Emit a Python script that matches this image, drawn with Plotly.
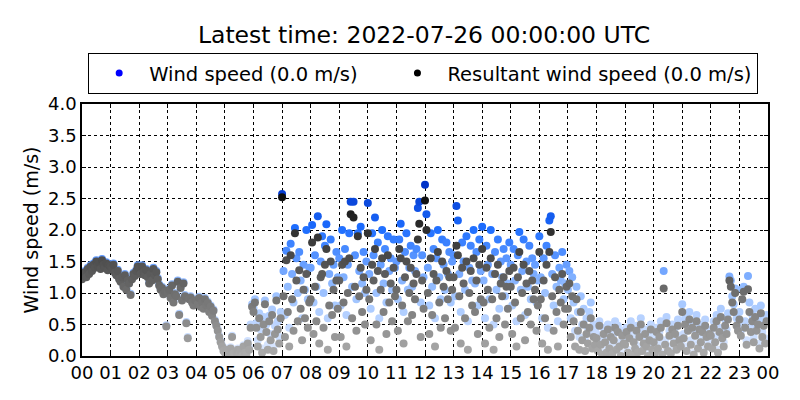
import plotly.graph_objects as go

# one reading every 3 minutes, 20 per hour, one row per hour
sample_minutes = list(range(0, 1440, 3))

hour_labels = ["00", "01", "02", "03", "04", "05", "06", "07", "08", "09", "10", "11",
               "12", "13", "14", "15", "16", "17", "18", "19", "20", "21", "22", "23", "00"]

wind_speed = [
    1.24, 1.30, 1.35, 1.27, 1.40, 1.32, 1.44, 1.37, 1.47, 1.42, 1.52, 1.45, 1.50, 1.40, 1.54, 1.47, 1.42, 1.49, 1.38, 1.46,
    1.44, 1.40, 1.47, 1.34, 1.30, 1.37, 1.24, 1.20, 1.27, 1.12, 1.30, 1.07, 1.22, 1.17, 0.99, 1.24, 1.32, 1.29, 1.37, 1.44,
    1.40, 1.32, 1.44, 1.35, 1.30, 1.38, 1.27, 1.17, 1.32, 1.22, 1.40, 1.30, 1.35, 1.24, 1.14, 1.07, 1.10, 1.00, 1.04, 0.49,
    1.02, 1.07, 0.94, 1.14, 0.87, 1.00, 0.97, 1.20, 0.67, 1.10, 0.90, 1.17, 0.97, 0.54, 0.30, 0.92, 0.95, 0.87, 0.82, 0.90,
    0.90, 0.84, 0.94, 0.80, 0.87, 0.77, 0.92, 0.82, 0.86, 0.72, 0.80, 0.66, 0.74, 0.57, 0.50, 0.42, 0.32, 0.24, 0.17, 0.10,
    0.07, 0.12, 0.04, 0.10, 0.14, 0.32, 0.06, 0.02, 0.08, 0.12, 0.05, 0.10, 0.02, 0.17, 0.07, 0.04, 0.24, 0.14, 0.50, 0.82,
    0.76, 0.90, 0.52, 0.25, 0.68, 0.42, 0.12, 0.62, 0.88, 0.50, 0.18, 0.64, 0.35, 0.74, 0.15, 0.48, 0.95, 0.55, 0.30, 0.70,
    2.57, 1.35, 0.65, 1.67, 1.10, 0.45, 1.78, 1.30, 0.85, 2.03, 1.55, 1.00, 1.65, 1.20, 0.60, 1.45, 1.05, 2.00, 0.90, 1.40,
    1.40, 2.08, 0.85, 1.60, 1.10, 2.22, 0.70, 1.50, 1.90, 1.00, 1.75, 2.09, 0.60, 1.30, 1.85, 1.15, 1.45, 0.80, 1.65, 1.25,
    1.55, 0.80, 2.00, 1.25, 1.70, 0.65, 1.45, 1.95, 2.45, 1.10, 2.45, 1.60, 0.90, 1.95, 1.35, 2.05, 1.15, 1.65, 1.00, 1.50,
    2.43, 1.30, 0.75, 1.95, 1.60, 2.20, 1.00, 1.80, 0.60, 1.45, 2.00, 1.15, 1.70, 0.85, 1.90, 1.35, 1.55, 1.05, 1.85, 1.40,
    1.50, 0.90, 1.85, 2.10, 1.20, 0.70, 1.65, 1.95, 1.05, 1.40, 1.75, 1.10, 1.60, 1.35, 1.70, 2.35, 2.45, 0.85, 1.60, 1.25,
    2.72, 2.25, 1.40, 0.80, 1.95, 1.10, 1.70, 0.60, 1.55, 2.00, 1.25, 0.90, 1.85, 1.45, 1.05, 1.80, 1.30, 1.65, 0.85, 1.50,
    1.60, 0.95, 2.38, 2.15, 1.30, 0.70, 1.80, 1.50, 1.05, 1.90, 0.55, 1.40, 1.75, 1.20, 2.00, 1.15, 1.65, 0.80, 1.85, 1.35,
    2.05, 1.20, 0.60, 1.75, 1.45, 0.90, 2.00, 1.30, 0.50, 1.65, 1.05, 1.85, 0.75, 1.50, 1.25, 1.70, 0.95, 1.55, 1.15, 1.80,
    1.45, 0.80, 1.70, 1.20, 0.55, 1.60, 1.97, 1.05, 1.35, 1.85, 0.65, 1.50, 1.10, 1.75, 0.90, 1.55, 1.30, 1.45, 0.85, 1.20,
    1.90, 1.25, 0.60, 1.55, 1.00, 1.75, 0.45, 2.15, 2.22, 1.30, 0.80, 1.60, 1.10, 0.55, 1.40, 1.20, 1.65, 0.90, 1.15, 1.45,
    1.05, 1.35, 0.60, 1.25, 0.85, 0.40, 1.10, 0.70, 0.30, 0.95, 0.50, 0.75, 0.25, 0.60, 0.45, 0.70, 0.85, 0.35, 0.50, 0.40,
    0.35, 0.15, 0.55, 0.25, 0.05, 0.45, 0.30, 0.10, 0.50, 0.20, 0.40, 0.08, 0.35, 0.55, 0.18, 0.48, 0.22, 0.05, 0.40, 0.28,
    0.25, 0.45, 0.10, 0.35, 0.55, 0.05, 0.30, 0.20, 0.48, 0.12, 0.38, 0.60, 0.15, 0.28, 0.42, 0.22, 0.05, 0.32, 0.50, 0.18,
    0.30, 0.10, 0.45, 0.20, 0.38, 0.55, 0.05, 1.35, 0.25, 0.62, 0.15, 0.40, 0.08, 0.50, 0.28, 0.45, 0.18, 0.58, 0.32, 0.22,
    0.82, 0.35, 0.60, 0.15, 0.48, 0.70, 0.25, 0.55, 0.05, 0.40, 0.65, 0.20, 0.50, 0.30, 0.45, 0.10, 0.58, 0.38, 0.22, 0.42,
    0.40, 0.20, 0.55, 0.30, 0.65, 0.10, 0.45, 0.75, 0.35, 0.22, 0.58, 0.42, 0.68, 1.26, 1.20, 0.95, 0.82, 1.07, 0.60, 0.50,
    0.70, 0.40, 1.06, 1.10, 0.55, 0.25, 1.27, 0.85, 0.45, 0.65, 0.30, 0.75, 0.50, 0.60, 0.20, 0.80, 0.38, 0.58, 0.28, 0.65,
]

resultant = [
    1.22, 1.28, 1.33, 1.25, 1.38, 1.30, 1.42, 1.35, 1.45, 1.40, 1.50, 1.43, 1.48, 1.38, 1.52, 1.45, 1.40, 1.47, 1.36, 1.44,
    1.42, 1.38, 1.45, 1.32, 1.28, 1.35, 1.22, 1.18, 1.25, 1.10, 1.28, 1.05, 1.20, 1.15, 0.97, 1.22, 1.30, 1.27, 1.35, 1.42,
    1.38, 1.30, 1.42, 1.33, 1.28, 1.36, 1.25, 1.15, 1.30, 1.20, 1.38, 1.28, 1.33, 1.22, 1.12, 1.05, 1.08, 0.98, 1.02, 0.47,
    1.00, 1.05, 0.92, 1.12, 0.85, 0.98, 0.95, 1.18, 0.65, 1.08, 0.88, 1.15, 0.95, 0.52, 0.28, 0.90, 0.93, 0.85, 0.80, 0.88,
    0.88, 0.82, 0.92, 0.78, 0.85, 0.75, 0.90, 0.80, 0.84, 0.70, 0.78, 0.64, 0.72, 0.55, 0.48, 0.40, 0.30, 0.22, 0.15, 0.08,
    0.05, 0.10, 0.02, 0.08, 0.12, 0.30, 0.04, 0.00, 0.06, 0.10, 0.03, 0.08, 0.00, 0.15, 0.05, 0.02, 0.20, 0.10, 0.45, 0.78,
    0.70, 0.85, 0.45, 0.15, 0.60, 0.30, 0.05, 0.50, 0.82, 0.38, 0.10, 0.55, 0.25, 0.65, 0.08, 0.35, 0.88, 0.42, 0.20, 0.60,
    2.52, 0.95, 0.30, 1.52, 0.70, 0.15, 1.60, 0.90, 0.40, 1.95, 1.20, 0.55, 1.36, 0.75, 0.25, 1.05, 0.60, 1.30, 0.45, 0.85,
    0.90, 1.80, 0.35, 1.10, 0.55, 1.88, 0.20, 1.25, 1.30, 0.45, 1.45, 1.70, 0.10, 0.80, 1.50, 0.65, 1.05, 0.30, 1.20, 0.75,
    1.20, 0.30, 1.45, 0.85, 1.50, 0.15, 1.00, 1.55, 2.25, 0.60, 2.20, 1.10, 0.40, 1.90, 0.95, 1.40, 0.70, 1.25, 0.50, 1.05,
    1.95, 0.90, 0.25, 1.45, 1.20, 1.70, 0.50, 1.35, 0.10, 1.05, 1.55, 0.70, 1.30, 0.35, 1.60, 0.85, 1.15, 0.55, 1.40, 0.95,
    1.05, 0.40, 1.70, 1.55, 0.80, 0.20, 1.25, 1.50, 0.55, 1.00, 1.40, 0.65, 1.15, 0.90, 1.30, 1.85, 2.10, 0.30, 1.20, 0.75,
    2.47, 2.00, 1.00, 0.35, 1.55, 0.65, 1.30, 0.15, 1.20, 1.65, 0.85, 0.45, 1.50, 1.10, 0.60, 1.35, 0.90, 1.25, 0.40, 1.05,
    1.25, 0.45, 1.75, 1.60, 0.95, 0.20, 1.40, 1.15, 0.60, 1.50, 0.10, 1.00, 1.35, 0.80, 1.55, 0.70, 1.20, 0.35, 1.45, 0.90,
    1.70, 0.85, 0.20, 1.40, 1.05, 0.45, 1.55, 0.90, 0.10, 1.30, 0.60, 1.45, 0.30, 1.15, 0.95, 1.25, 0.50, 1.10, 0.75, 1.35,
    1.10, 0.35, 1.40, 0.85, 0.15, 1.25, 1.65, 0.60, 1.00, 1.45, 0.25, 1.15, 0.70, 1.35, 0.50, 1.20, 0.90, 1.05, 0.40, 0.80,
    1.65, 0.90, 0.20, 1.20, 0.60, 1.45, 0.10, 1.65, 1.97, 0.95, 0.40, 1.25, 0.70, 0.15, 1.05, 0.85, 1.30, 0.50, 0.75, 1.10,
    0.75, 1.15, 0.30, 0.95, 0.55, 0.15, 0.90, 0.40, 0.10, 0.70, 0.25, 0.50, 0.08, 0.35, 0.20, 0.45, 0.60, 0.12, 0.30, 0.18,
    0.28, 0.08, 0.48, 0.18, 0.02, 0.35, 0.22, 0.05, 0.42, 0.12, 0.30, 0.03, 0.25, 0.45, 0.10, 0.38, 0.15, 0.00, 0.32, 0.20,
    0.18, 0.38, 0.05, 0.28, 0.45, 0.02, 0.22, 0.12, 0.40, 0.06, 0.30, 0.50, 0.08, 0.20, 0.35, 0.15, 0.00, 0.25, 0.42, 0.10,
    0.22, 0.05, 0.38, 0.12, 0.30, 0.45, 0.02, 1.07, 0.18, 0.52, 0.08, 0.32, 0.04, 0.42, 0.20, 0.35, 0.10, 0.48, 0.25, 0.15,
    0.70, 0.28, 0.50, 0.08, 0.40, 0.58, 0.18, 0.45, 0.02, 0.32, 0.55, 0.12, 0.42, 0.22, 0.38, 0.05, 0.48, 0.30, 0.15, 0.35,
    0.32, 0.12, 0.45, 0.22, 0.55, 0.05, 0.38, 0.62, 0.28, 0.15, 0.48, 0.35, 0.58, 1.20, 1.10, 0.85, 0.70, 1.00, 0.48, 0.40,
    0.58, 0.32, 0.90, 1.02, 0.45, 0.18, 1.06, 0.70, 0.38, 0.55, 0.22, 0.62, 0.40, 0.50, 0.12, 0.68, 0.30, 0.48, 0.20, 0.55,
]

hours = [m / 60 for m in sample_minutes]

blues = [[0, "rgb(225,235,255)"], [0.4, "rgb(150,190,255)"],
         [0.75, "rgb(30,110,255)"], [1, "rgb(0,50,200)"]]
greys = [[0, "rgb(172,172,172)"], [1, "rgb(10,10,10)"]]

fig = go.Figure()
fig.add_trace(go.Scatter(
    x=hours, y=wind_speed, mode="markers", showlegend=False,
    marker=dict(size=8, color=wind_speed, colorscale=blues, cmin=0, cmax=2.7),
))
fig.add_trace(go.Scatter(
    x=hours, y=resultant, mode="markers", showlegend=False,
    marker=dict(size=8, color=resultant, colorscale=greys, cmin=0, cmax=2.6),
))
# legend entries only; the nbsp padding spreads the two entries like the original
pad = "\u00a0" * 4
fig.add_trace(go.Scatter(x=[None], y=[None], mode="markers", name="Wind speed (0.0 m/s)" + pad,
                         marker=dict(size=7, color="blue")))
fig.add_trace(go.Scatter(x=[None], y=[None], mode="markers", name="Resultant wind speed (0.0 m/s)",
                         marker=dict(size=7, color="black")))

axis_style = dict(
    showline=True, linecolor="black", linewidth=1.5, mirror="ticks",
    ticks="inside", ticklen=4, tickcolor="black",
    showgrid=True, gridcolor="black", griddash="dot", gridwidth=1,
    zeroline=False, automargin=False,
    tickfont=dict(family="DejaVu Sans", size=18, color="black"),
)

fig.update_xaxes(range=[0, 24], tickvals=list(range(25)), ticktext=hour_labels, **axis_style)
fig.update_yaxes(range=[0, 4], dtick=0.5, tickformat=".1f",
                 title=dict(text="Wind speed (m/s)", font=dict(family="DejaVu Sans", size=19, color="black"),
                            standoff=4),
                 **axis_style)

fig.update_layout(
    width=800, height=400,
    margin=dict(l=74, r=40, t=96, b=52),
    paper_bgcolor="white", plot_bgcolor="white",
    font=dict(family="DejaVu Sans", color="black"),
    title=dict(text="Latest time: 2022-07-26 00:00:00 UTC", x=0.52, xanchor="center",
               y=0.9325, yanchor="middle", font=dict(size=23.5, color="black")),
    legend=dict(orientation="h", x=0.009, xanchor="left", y=1.04, yanchor="bottom",
                bordercolor="black", borderwidth=1, bgcolor="white", itemwidth=50,
                font=dict(size=19.5)),
)

fig.write_html("out.html")
